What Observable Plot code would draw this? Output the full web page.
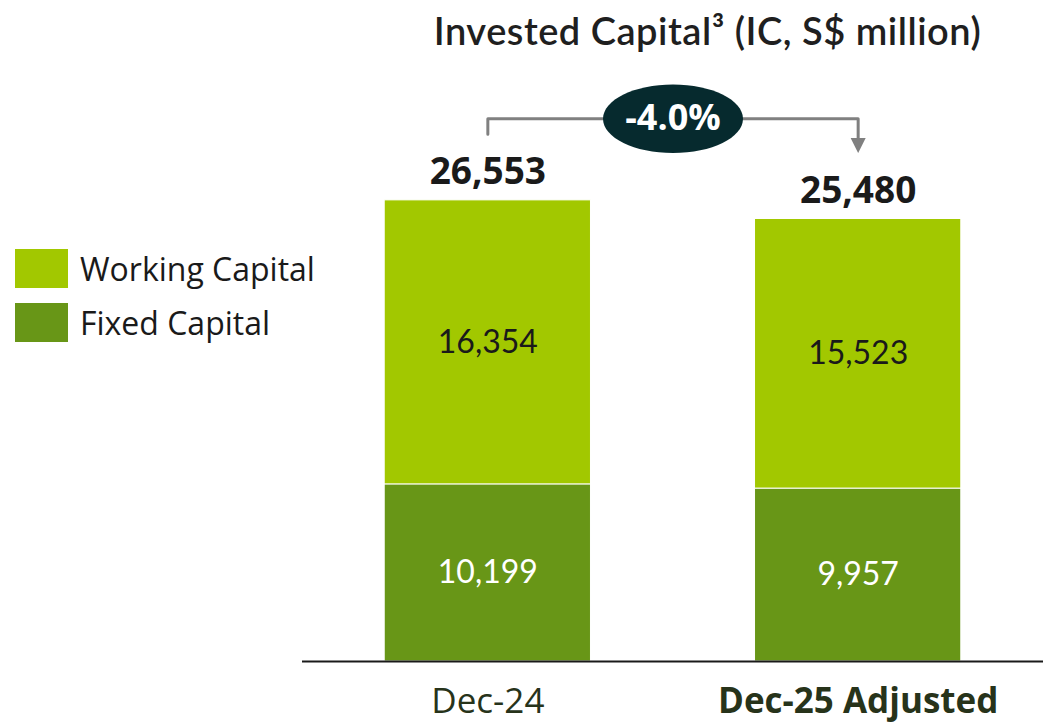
<!DOCTYPE html>
<html>
<head>
<meta charset="utf-8">
<script src="https://cdn.jsdelivr.net/npm/d3@7"></script>
<script src="https://cdn.jsdelivr.net/npm/@observablehq/plot@0.6"></script>
<style>
  html, body { margin: 0; padding: 0; background: #fff; }
  #wrap { position: relative; width: 1043px; height: 724px; overflow: hidden; }
  #title { position: absolute; left: 372px; width: 671px; top: 8px; text-align: center; letter-spacing: 0.5px;
           font-family: Lato, sans-serif; font-weight: 600; font-size: 38px; line-height: 44px; color: #1f1f1f; }
  .lg { position: absolute; left: 15px; height: 39px; display: flex; align-items: center;
        font-family: "Open Sans", sans-serif; font-size: 32px; line-height: 39px; color: #1a1a1a; }
  .lg span.sw { display: inline-block; width: 53px; height: 39px; margin-right: 12px; }
  #chart { position: absolute; left: 0; top: 0; }
</style>
</head>
<body>
<div id="wrap">
  <div id="chart"></div>
  <div id="title"></div>
  <div id="legend"></div>
</div>
<script>
// ---- data ----
const categories = ["Dec-24", "Dec-25 Adjusted"];
const seriesNames = ["Fixed Capital", "Working Capital"];
const fixedCapital = [10199, 9957];
const workingCapital = [16354, 15523];
const totals = [26553, 25480];
const changeLabel = "-4.0%";
const titleText = "Invested Capital³ (IC, S$ million)";
const legendOrder = ["Working Capital", "Fixed Capital"];
const seriesColors = ["#689617", "#a2c800"];

// ---- derived tables ----
const rows = [];
categories.forEach((c, i) => {
  rows.push({category: c, series: seriesNames[0], value: fixedCapital[i]});
  rows.push({category: c, series: seriesNames[1], value: workingCapital[i]});
});
const totalRows = categories.map((c, i) => ({category: c, total: totals[i]}));
const fmt = d3.format(",");

// ---- layout / style constants ----
const W = 1043, H = 724;
const marginLeft = 302, marginRight = 0, marginTop = 140, marginBottom = 63;
const padInner = 0.443, padOuter = 0.222;
const step = (W - marginLeft - marginRight) / (categories.length - padInner + 2 * padOuter);
const gapAbove = 3800;   // data-unit gap between bar top and bracket ends
const rise = 4700;       // data-unit rise of the bracket above the tallest bar
const level = d3.max(totals) + rise;
const arrowInset = 500;

const bracket = [
  {category: categories[0], y: totals[0] + gapAbove},
  {category: categories[0], y: level},
  {category: categories[1], y: level},
  {category: categories[1], y: totals[1] + gapAbove + arrowInset}
];

const downTriangle = {
  draw(ctx, size) {
    const r = Math.sqrt(size / Math.PI);
    ctx.moveTo(-r, -r);
    ctx.lineTo(r, -r);
    ctx.lineTo(0, r);
    ctx.closePath();
  }
};
const ellipse = {
  draw(ctx, size) {
    const rx = Math.sqrt(size / Math.PI), ry = rx * 0.49, k = 0.5523;
    ctx.moveTo(rx, 0);
    ctx.bezierCurveTo(rx, ry * k, rx * k, ry, 0, ry);
    ctx.bezierCurveTo(-rx * k, ry, -rx, ry * k, -rx, 0);
    ctx.bezierCurveTo(-rx, -ry * k, -rx * k, -ry, 0, -ry);
    ctx.bezierCurveTo(rx * k, -ry, rx, -ry * k, rx, 0);
    ctx.closePath();
  }
};

const segLabel = (which, color) => Plot.text(rows, Plot.stackY({
  x: "category", y: "value", z: "series",
  text: d => d.series === which ? fmt(d.value) : "",
  fill: color, fontSize: 32, fontFamily: "Lato, sans-serif", fontWeight: 400, lineAnchor: "middle"
}));

const chart = Plot.plot({
  width: W, height: H,
  marginLeft, marginRight, marginTop, marginBottom,
  style: {fontFamily: "'Open Sans', sans-serif", background: "transparent", overflow: "visible"},
  x: {domain: categories, paddingInner: padInner, paddingOuter: padOuter, round: false},
  y: {domain: [0, 30000], axis: null},
  color: {domain: seriesNames, range: seriesColors},
  marks: [
    Plot.barY(rows, {x: "category", y: "value", fill: "series", stroke: "#ffffff", strokeWidth: 1}),
    Plot.ruleY([0], {stroke: "#1a1a1a", strokeWidth: 2}),
    segLabel(seriesNames[1], "#1a1a1a"),
    segLabel(seriesNames[0], "#ffffff"),
    Plot.text(totalRows, {
      x: "category", y: "total", text: d => fmt(d.total), dy: -28, lineAnchor: "middle",
      fontSize: 37, fontWeight: 700, fill: "#1a1a1a"
    }),
    Plot.line(bracket, {x: "category", y: "y", stroke: "#808080", strokeWidth: 3, curve: "linear"}),
    Plot.dot([{category: categories[1], y: totals[1] + gapAbove}], {
      x: "category", y: "y", symbol: downTriangle, r: 7.5, dy: -7.5, fill: "#808080", stroke: "none"
    }),
    Plot.dot([{category: categories[0], y: level}], {
      x: "category", y: "y", dx: step / 2, symbol: ellipse, r: 70, fill: "#062a2e", stroke: "none"
    }),
    Plot.text([{category: categories[0], y: level, label: changeLabel}], {
      x: "category", y: "y", dx: step / 2, text: "label", lineAnchor: "middle",
      fill: "#ffffff", fontSize: 36, fontWeight: 700
    }),
    Plot.axisX([categories[0]], {tickSize: 0, tickPadding: 27, fontSize: 35, color: "#27331a", label: null}),
    Plot.axisX([categories[1]], {tickSize: 0, tickPadding: 27, fontSize: 35, fontWeight: 700, color: "#27331a", label: null})
  ]
});
document.getElementById("chart").appendChild(chart);
document.getElementById("title").textContent = titleText;

const legend = document.getElementById("legend");
legendOrder.forEach((name, i) => {
  const row = document.createElement("div");
  row.className = "lg";
  row.style.top = (249 + i * 54) + "px";
  const sw = document.createElement("span");
  sw.className = "sw";
  sw.style.background = seriesColors[seriesNames.indexOf(name)];
  row.appendChild(sw);
  row.appendChild(document.createTextNode(name));
  legend.appendChild(row);
});
</script>
</body>
</html>
